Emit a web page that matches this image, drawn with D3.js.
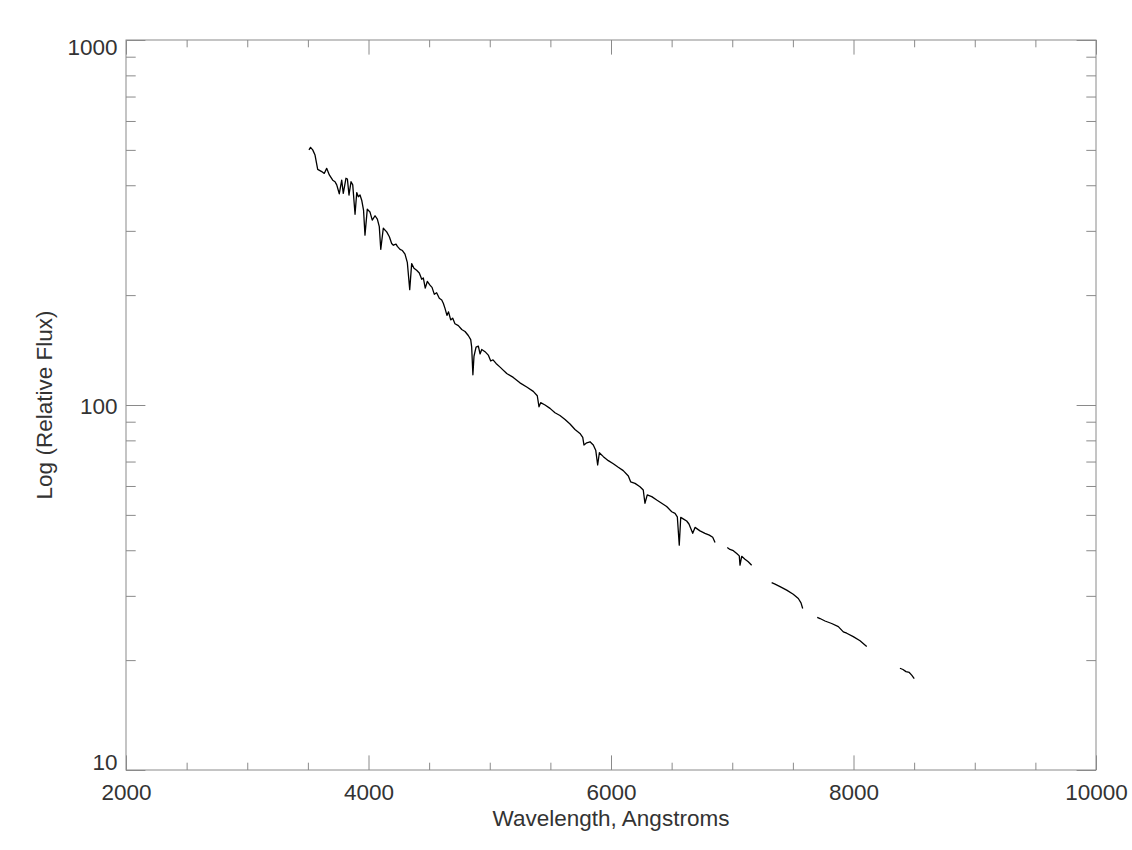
<!DOCTYPE html>
<html>
<head>
<meta charset="utf-8">
<script src="https://cdn.jsdelivr.net/npm/d3@7"></script>
<style>
  html, body { margin: 0; padding: 0; background: #fff; }
  svg { display: block; }
  text { font-family: "Liberation Sans", Arial, sans-serif; fill: #333; }
</style>
</head>
<body>
<svg id="chart" width="1132" height="850"></svg>
<script>
// ---- data ----
const wavelength = [
  3509,3522,3540,3559,3581,3614,3635,3655,3677,3705,3724,3738,3759,3779,3792,3814,3826,3839,3856,3870,
  3889,3903,3916,3930,3944,3959,3971,3990,4012,4031,4054,4073,4089,4101,4122,4150,4172,4191,4205,4227,
  4238,4260,4280,4301,4320,4340,4356,4375,4397,4419,4439,4452,4468,4485,4507,4524,4543,4562,4584,4604,
  4617,4631,4647,4660,4678,4694,4713,4741,4769,4796,4823,4843,4851,4861,4870,4887,4906,4920,4934,4961,
  4988,5008,5027,5052,5085,5140,5194,5249,5305,5359,5392,5406,5420,5456,5497,5538,5579,5621,5662,5703,
  5744,5767,5777,5800,5827,5854,5874,5890,5904,5937,5978,6019,6060,6101,6143,6162,6198,6239,6266,6280,
  6299,6336,6377,6418,6459,6501,6528,6547,6563,6575,6602,6624,6643,6674,6693,6734,6775,6811,6839,6858,
  6900,
  6959,6981,7009,7037,7058,7064,7078,7105,7132,7160,
  7250,
  7325,7353,7394,7449,7503,7545,7567,7581,
  7650,
  7701,7724,7765,7820,7875,7916,7944,7998,8054,8109,
  8250,
  8383,8408,8433,8460,8480,8501
];
const flux = [
  500,508,500,484,442,436,431,445,427,413,409,401,379,413,380,418,416,376,409,401,
  333,382,372,376,364,342,292,344,338,321,330,323,308,267,305,298,289,277,274,276,
  272,267,265,259,246,207,244,237,234,230,221,223,209,218,213,210,201,203,196,194,
  190,184,176,180,171,173,167,165,161,159,155,151,144,121,136,144,145,138,142,140,
  137,132,133,130,127,122,119,115,112,109,106,98.9,101.5,100,97.9,95.2,93.6,91.3,88.7,85.7,
  83.6,81.5,77.7,78.8,79.3,77.7,75.2,68.5,74.0,72.2,70.4,69.0,67.5,66.1,63.9,61.6,61.0,59.7,58.5,53.8,
  56.7,56.1,54.9,53.8,52.7,51.0,50.5,49.4,41.3,49.2,48.6,48.1,47.2,44.5,46.2,45.2,44.5,44.0,43.4,42.0,
  null,
  40.7,40.2,39.9,39.2,38.6,36.4,38.5,37.8,37.2,36.4,
  null,
  32.6,32.3,31.8,31.1,30.3,29.5,28.7,27.7,
  null,
  26.2,26.0,25.6,25.2,24.7,23.9,23.7,23.2,22.6,21.8,
  null,
  19.0,18.85,18.6,18.5,18.2,17.8
];
const xDomain = [2000, 10000];
const yDomain = [10, 1000];
const xMajorTicks = [2000, 4000, 6000, 8000, 10000];
const xMinorTicks = [2500, 3000, 3500, 4500, 5000, 5500, 6500, 7000, 7500, 8500, 9000, 9500];
const yMajorTicks = [10, 100, 1000];
const yMinorTicks = [20,30,40,50,60,70,80,90,200,300,400,500,600,700,800,900];
const xTitle = "Wavelength, Angstroms";
const yTitle = "Log (Relative Flux)";

// ---- layout ----
const L = 126, R = 1096, T = 40, B = 770;
const axisColor = "#8a8a8a";
const textColor = "#333";
const fontSize = 22.5;
const xMajLen = 14.6, xMinLen = 7.3, yMajLen = 19.4, yMinLen = 9.7;

const svg = d3.select("#chart");
const x = d3.scaleLinear().domain(xDomain).range([L, R]);
const y = d3.scaleLog().domain(yDomain).range([B, T]);

function styleAxis(g) {
  g.select(".domain").remove();
  g.selectAll(".tick line").attr("stroke", axisColor).attr("stroke-width", 1);
}

// bottom major with labels
svg.append("g").attr("transform", `translate(0,${B})`)
  .call(d3.axisBottom(x).tickValues(xMajorTicks).tickSizeInner(-xMajLen).tickSizeOuter(0)
        .tickPadding(14).tickFormat(d3.format("d")))
  .call(styleAxis)
  .call(g => g.selectAll(".tick text").attr("font-size", fontSize).attr("fill", textColor)
        .attr("font-family", "Liberation Sans, Arial, sans-serif"));
// bottom minor
svg.append("g").attr("transform", `translate(0,${B})`)
  .call(d3.axisBottom(x).tickValues(xMinorTicks).tickSizeInner(-xMinLen).tickSizeOuter(0).tickFormat(""))
  .call(styleAxis);
// top major/minor
svg.append("g").attr("transform", `translate(0,${T})`)
  .call(d3.axisTop(x).tickValues(xMajorTicks).tickSizeInner(-xMajLen).tickSizeOuter(0).tickFormat(""))
  .call(styleAxis);
svg.append("g").attr("transform", `translate(0,${T})`)
  .call(d3.axisTop(x).tickValues(xMinorTicks).tickSizeInner(-xMinLen).tickSizeOuter(0).tickFormat(""))
  .call(styleAxis);
// left major/minor
svg.append("g").attr("transform", `translate(${L},0)`)
  .call(d3.axisLeft(y).tickValues(yMajorTicks).tickSizeInner(-yMajLen).tickSizeOuter(0).tickFormat(""))
  .call(styleAxis);
svg.append("g").attr("transform", `translate(${L},0)`)
  .call(d3.axisLeft(y).tickValues(yMinorTicks).tickSizeInner(-yMinLen).tickSizeOuter(0).tickFormat(""))
  .call(styleAxis);
// right major/minor
svg.append("g").attr("transform", `translate(${R},0)`)
  .call(d3.axisRight(y).tickValues(yMajorTicks).tickSizeInner(-yMajLen).tickSizeOuter(0).tickFormat(""))
  .call(styleAxis);
svg.append("g").attr("transform", `translate(${R},0)`)
  .call(d3.axisRight(y).tickValues(yMinorTicks).tickSizeInner(-yMinLen).tickSizeOuter(0).tickFormat(""))
  .call(styleAxis);

// frame
svg.append("rect").attr("x", L).attr("y", T).attr("width", R - L).attr("height", B - T)
  .attr("fill", "none").attr("stroke", axisColor).attr("stroke-width", 1);

// left labels (IDL-like vertical placement, kept inside the axis range)
svg.append("g").selectAll("text").data(yMajorTicks).join("text")
  .attr("x", L - 8.5)
  .attr("y", d => Math.max(T + 14.5, Math.min(B, y(d) + 8.5)))
  .attr("text-anchor", "end")
  .attr("font-size", fontSize)
  .text(d => d3.format("d")(d));

// titles
svg.append("text").attr("x", (L + R) / 2).attr("y", 826).attr("text-anchor", "middle")
  .attr("font-size", fontSize).text(xTitle);
svg.append("text").attr("transform", `translate(52,${(T + B) / 2}) rotate(-90)`)
  .attr("text-anchor", "middle").attr("font-size", fontSize).text(yTitle);

// spectrum
const pts = wavelength.map((w, i) => ({ w, f: flux[i] }));
const line = d3.line().defined(d => d.f != null).x(d => x(d.w)).y(d => y(d.f));
svg.append("path").datum(pts).attr("d", line)
  .attr("fill", "none").attr("stroke", "#000").attr("stroke-width", 1.3)
  .attr("stroke-linejoin", "round");
</script>
</body>
</html>
